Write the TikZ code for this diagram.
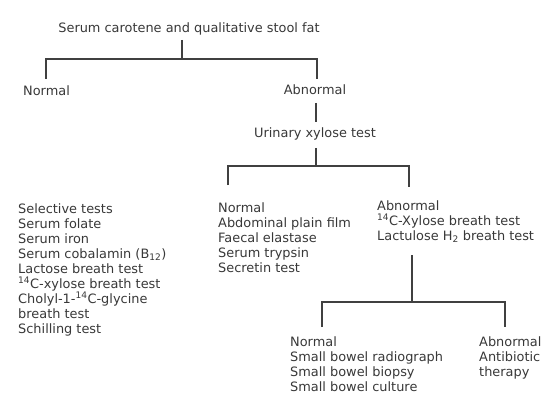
\documentclass[tikz,border=0pt]{standalone}
\usepackage{fontspec}
\setmainfont{DejaVu Sans}
\begin{document}
\begin{tikzpicture}[x=1pt,y=-1pt,
  lbl/.style={inner sep=0pt, text=black!78, font=\fontsize{12.9}{15}\selectfont},
  lst/.style={lbl, align=left, anchor=north west},
  conn/.style={draw=black!75, line width=1.3pt}]
\useasboundingbox (0,0) rectangle (546,393);

% labels
\node[lbl, anchor=base] (title) at (189,32.5) {Serum carotene and qualitative stool fat};
\node[lbl, anchor=base west] (n1) at (23,95.5) {Normal};
\node[lbl, anchor=base] (a1) at (315,94.5) {Abnormal};
\node[lbl, anchor=base] (ux) at (315,137.5) {Urinary xylose test};
\node[lst] (sel) at (18,203) {Selective tests\\Serum folate\\Serum iron\\Serum cobalamin (B\textsubscript{12})\\Lactose breath test\\\textsuperscript{14}C-xylose breath test\\Cholyl-1-\textsuperscript{14}C-glycine\\breath test\\Schilling test};
\node[lst] (n2) at (218,202) {Normal\\Abdominal plain film\\Faecal elastase\\Serum trypsin\\Secretin test};
\node[lst] (a2) at (377,200) {Abnormal\\\textsuperscript{14}C-Xylose breath test\\Lactulose H\textsubscript{2} breath test};
\node[lst] (n3) at (290,336) {Normal\\Small bowel radiograph\\Small bowel biopsy\\Small bowel culture};
\node[lst] (a3) at (479,336) {Abnormal\\Antibiotic\\therapy};

% branch points and stub ends
\coordinate (t0) at (182,40);
\coordinate (t1) at (182,59);
\coordinate (l1) at (46,59);
\coordinate (l1e) at (46,79);
\coordinate (r1) at (317,59);
\coordinate (r1e) at (317,79);
\coordinate (a0) at (316,103);
\coordinate (a0e) at (316,122);
\coordinate (u0) at (316,148);
\coordinate (u1) at (316,166);
\coordinate (l2) at (228,166);
\coordinate (l2e) at (228,185);
\coordinate (r2) at (409,166);
\coordinate (r2e) at (409,187);
\coordinate (b0) at (412,255);
\coordinate (b1) at (412,302);
\coordinate (l3) at (322,302);
\coordinate (l3e) at (322,327);
\coordinate (r3) at (505,302);
\coordinate (r3e) at (505,327);

% connectors
\draw[conn] (t0) -- (t1);
\draw[conn] (l1e) -- (l1) -- (r1) -- (r1e);
\draw[conn] (a0) -- (a0e);
\draw[conn] (u0) -- (u1);
\draw[conn] (l2e) -- (l2) -- (r2) -- (r2e);
\draw[conn] (b0) -- (b1);
\draw[conn] (l3e) -- (l3) -- (r3) -- (r3e);
\end{tikzpicture}
\end{document}
